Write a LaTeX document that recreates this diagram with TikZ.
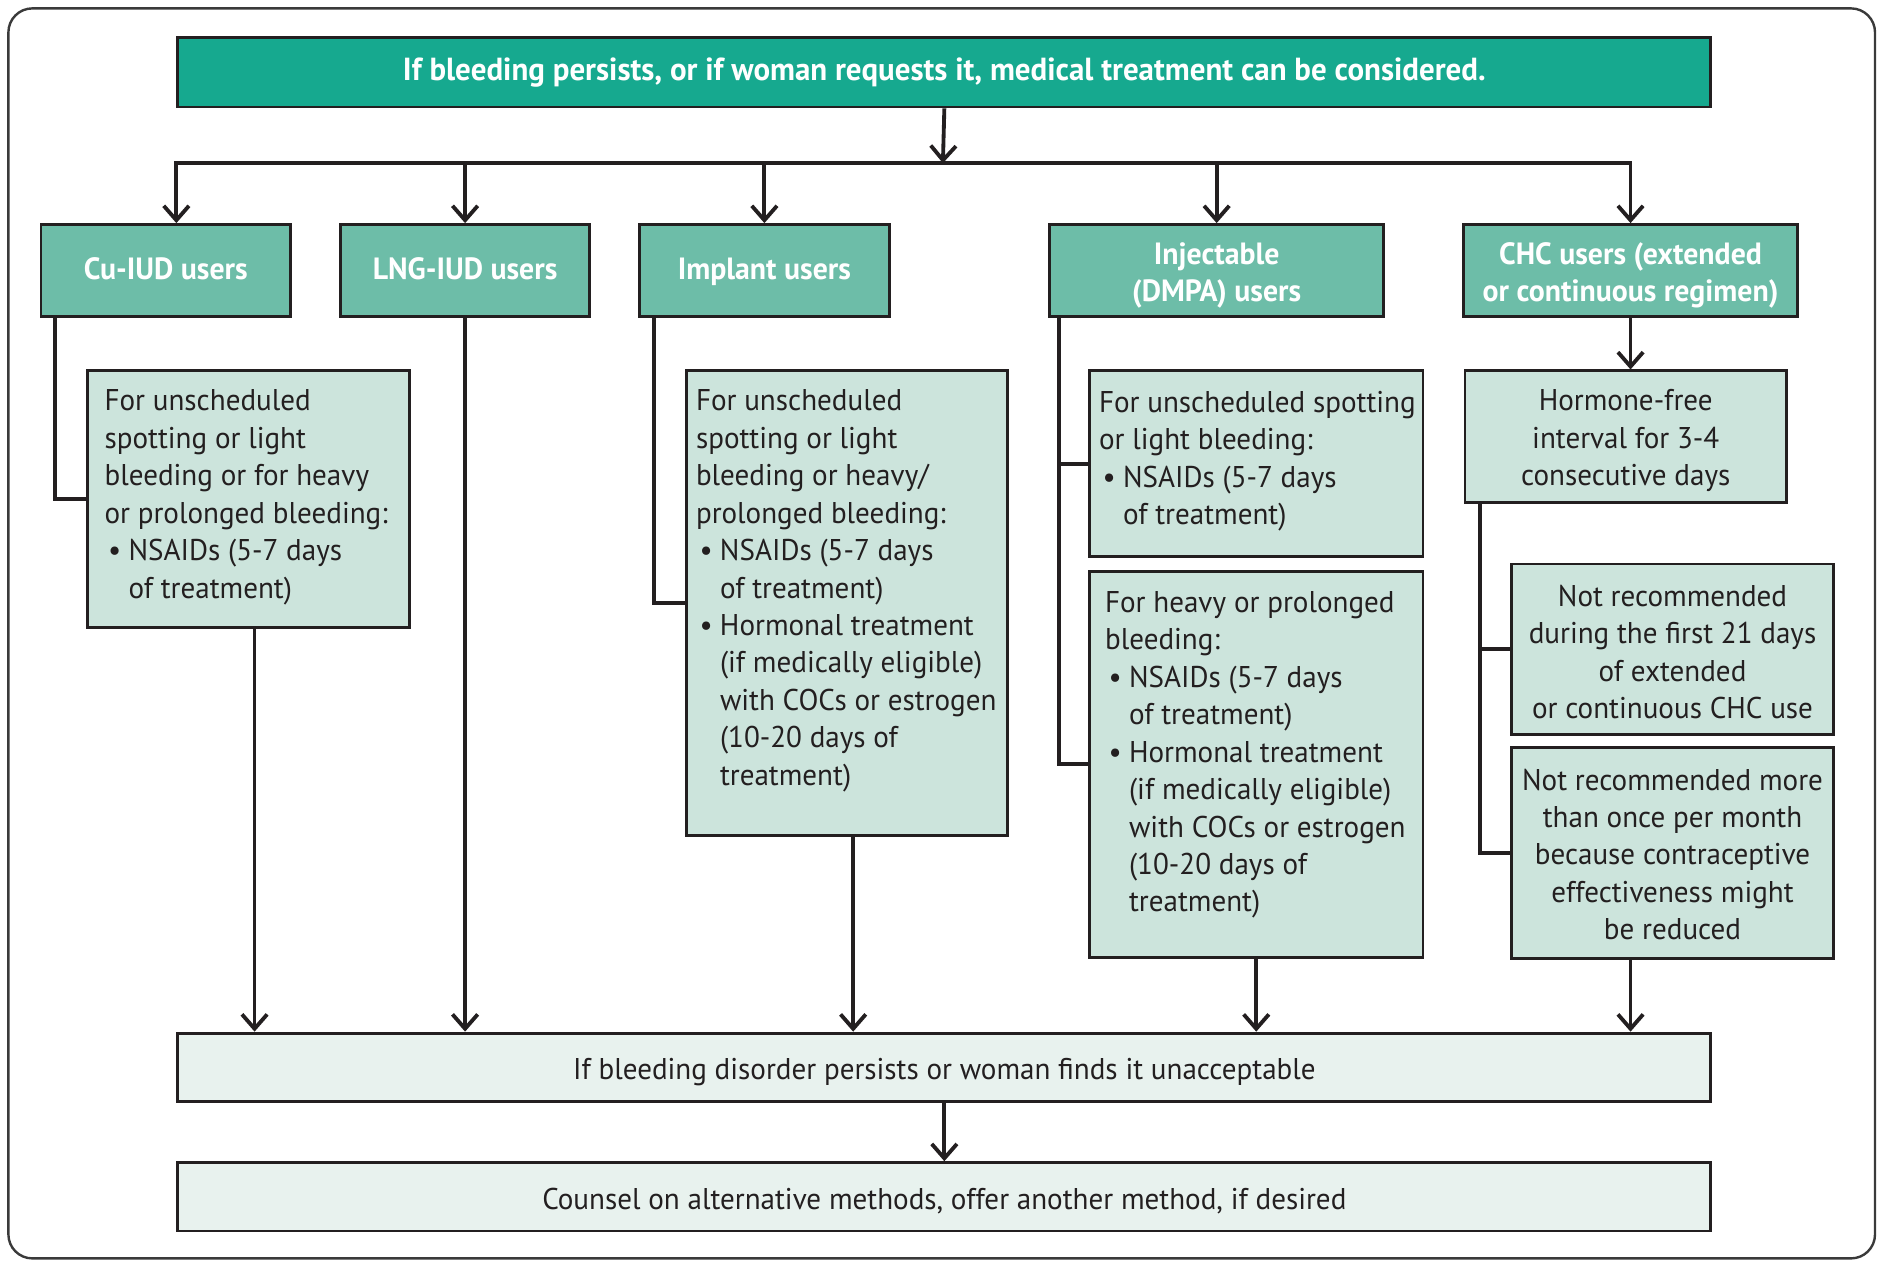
\documentclass[tikz,border=0pt]{standalone}
\usepackage{fontspec}
\setmainfont{PT Sans}[FakeStretch=0.97]
\usetikzlibrary{arrows.meta}
\definecolor{topfill}{HTML}{16A98F}
\definecolor{midfill}{HTML}{6DBDA8}
\definecolor{subfill}{HTML}{CCE4DC}
\definecolor{lowfill}{HTML}{E8F2EE}
\definecolor{ink}{HTML}{231F20}
\definecolor{framec}{HTML}{3A3A3A}
\newlength\padL
\newcommand\subtext[5]{\parbox[c][#1][t]{#2}{\fontsize{12.5pt}{15.6pt}\selectfont\setlength\padL{#4}\vspace*{#3}\hbox to\hsize{}#5}}
\newcommand\Lq[1]{\hbox{\hskip\padL #1}}
\newcommand\Bq[1]{\hbox{\hskip\padL\hbox to 10pt{\hskip1.5pt\textbullet\hss}#1}}
\newcommand\Iq[1]{\hbox{\hskip\padL\hskip10pt #1}}
\newcommand\Cq[1]{\hbox to\hsize{\hss#1\hss}}
\newcommand\stt{\rule[-3.2pt]{0pt}{13.6pt}}
\newcommand\sttA{\rule[-3.2pt]{0pt}{16.5pt}}
\newcommand\sttL{\rule[-3.2pt]{0pt}{16.6pt}}
\begin{document}
\begin{tikzpicture}[x=0.5pt,y=-0.5pt,
 box/.style={draw=ink, line width=1.2pt, anchor=north west, inner sep=0pt},
 topbox/.style={box, fill=topfill, text=white, font=\bfseries\fontsize{13.3pt}{15.6pt}\selectfont},
 midbox/.style={box, fill=midfill, text=white, align=center, font=\bfseries\fontsize{12.8pt}{15.6pt}\selectfont},
 subbox/.style={box, fill=subfill, text=ink},
 lowbox/.style={box, fill=lowfill, text=ink, font=\fontsize{12.5pt}{15.6pt}\selectfont},
 conn/.style={draw=ink, line width=1.6pt},
 arr/.style={conn, -{Straight Barb[length=6pt,width=10.5pt]}},
]
\useasboundingbox (0,0) rectangle (1568,1052);
\draw[draw=framec, line width=1pt, rounded corners=10pt] (7,7) rectangle (1563,1049);

\node[topbox, minimum width=639pt, minimum height=29pt] (top) at (147,30) {\stt If bleeding persists, or if woman requests it, medical treatment can be considered.};
\coordinate (hl) at (786,136);

\node[midbox, minimum width=104pt, minimum height=38.5pt] (cu) at (33,186) {\stt Cu-IUD users};
\node[midbox, minimum width=103.5pt, minimum height=38.5pt] (lng) at (283,186) {\stt LNG-IUD users};
\node[midbox, minimum width=104pt, minimum height=38.5pt] (imp) at (532,186) {\stt Implant users};
\node[midbox, minimum width=139pt, minimum height=38.5pt] (inj) at (874,186) {\sttA Injectable\\\stt (DMPA) users};
\node[midbox, minimum width=139pt, minimum height=38.5pt] (chc) at (1219,186) {\sttA CHC users (extended\\\stt or continuous regimen)};

\node[subbox] (cusub) at (72,308) {\subtext{107pt}{134pt}{1.1pt}{7pt}{\Lq{For unscheduled}\Lq{spotting or light}\Lq{bleeding or for heavy}\Lq{or prolonged bleeding:}\Bq{NSAIDs (5-7 days}\Iq{of treatment)}}};

\node[subbox] (impsub) at (571,308) {\subtext{193.5pt}{134pt}{1.1pt}{4pt}{\Lq{For unscheduled}\Lq{spotting or light}\Lq{bleeding or heavy/}\Lq{prolonged bleeding:}\Bq{NSAIDs (5-7 days}\Iq{of treatment)}\Bq{Hormonal treatment}\Iq{(if medically eligible)}\Iq{with COCs or estrogen}\Iq{(10-20 days of}\Iq{treatment)}}};

\node[subbox] (inj1) at (907,308) {\subtext{77.5pt}{139pt}{1.6pt}{4pt}{\Lq{For unscheduled spotting}\Lq{or light bleeding:}\Bq{NSAIDs (5-7 days}\Iq{of treatment)}}};

\node[subbox] (inj2) at (907,475) {\subtext{161pt}{139pt}{1.6pt}{6.5pt}{\Lq{For heavy or prolonged}\Lq{bleeding:}\Bq{NSAIDs (5-7 days}\Iq{of treatment)}\Bq{Hormonal treatment}\Iq{(if medically eligible)}\Iq{with COCs or estrogen}\Iq{(10-20 days of}\Iq{treatment)}}};

\node[subbox] (hf) at (1220,308) {\subtext{55pt}{134pt}{1.1pt}{0pt}{\Cq{Hormone-free}\Cq{interval for 3-4}\Cq{consecutive days}}};

\node[subbox] (na) at (1259,469) {\subtext{71pt}{134pt}{2.1pt}{0pt}{\Cq{Not recommended}\Cq{during the first 21 days}\Cq{of extended}\Cq{or continuous CHC use}}};

\node[subbox] (nb) at (1259,622) {\subtext{88pt}{134pt}{2.1pt}{0pt}{\Cq{Not recommended more}\Cq{than once per month}\Cq{because contraceptive}\Cq{effectiveness might}\Cq{be reduced}}};

\node[lowbox, minimum width=639pt, minimum height=28.5pt] (b1) at (147,860) {\sttL If bleeding disorder persists or woman finds it unacceptable};
\node[lowbox, minimum width=639pt, minimum height=28.5pt] (b2) at (147,968) {\sttL Counsel on alternative methods, offer another method, if desired};

% top distribution
\draw[arr] (top.south) -- (hl);
\draw[arr] (top.south west |- hl) -- (chc.north |- hl) -- (chc.north);
\draw[arr] (chc.north |- hl) -- (top.south west |- hl) -- (top.south west |- cu.north);
\draw[arr] (lng.north |- hl) -- (lng.north);
\draw[arr] (imp.north |- hl) -- (imp.north);
\draw[arr] (inj.north |- hl) -- (inj.north);

% branches
\draw[conn] ([xshift=6.5pt]cu.south west) |- (cusub.west);
\draw[conn] ([xshift=6.5pt]imp.south west) |- (impsub.west);
\draw[conn] ([xshift=4.5pt]inj.south west) |- (inj2.west);
\draw[conn] ([xshift=4.5pt]inj.south west |- inj1.west) -- (inj1.west);
\draw[arr] (chc.south) -- (chc.south |- hf.north);
\draw[conn] ([xshift=7pt]hf.south west) |- (nb.west);
\draw[conn] ([xshift=7pt]hf.south west |- na.west) -- (na.west);

% down to bottom
\draw[arr] ([xshift=2.5pt]cusub.south) -- ([xshift=2.5pt]cusub.south |- b1.north);
\draw[arr] (lng.south) -- (lng.south |- b1.north);
\draw[arr] ([xshift=2.5pt]impsub.south) -- ([xshift=2.5pt]impsub.south |- b1.north);
\draw[arr] (inj2.south) -- (inj2.south |- b1.north);
\draw[arr] (nb.south -| chc.south) -- (chc.south |- b1.north);
\draw[arr] (b1.south) -- (b2.north);
\end{tikzpicture}
\end{document}
